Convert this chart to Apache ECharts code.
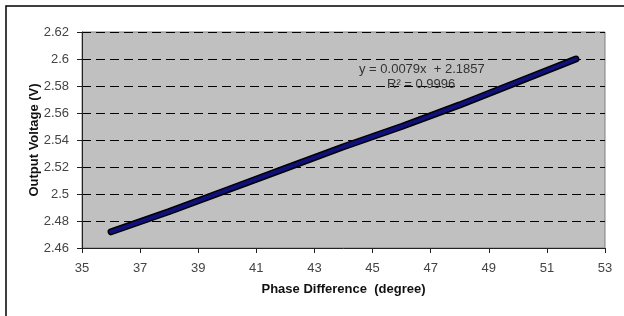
<!DOCTYPE html>
<html>
<head>
<meta charset="utf-8">
<script src="https://cdn.jsdelivr.net/npm/echarts@6/dist/echarts.min.js"></script>
<style>
  html, body { margin: 0; padding: 0; background: #fff; }
  #chart { width: 624px; height: 316px; }
</style>
</head>
<body>
<div id="chart"></div>
<script>
// phase difference (degree) vs output voltage (V)
let phase = [36, 38, 40, 42, 44, 46, 48, 50, 52];
let voltage = [2.472, 2.487, 2.503, 2.519, 2.535, 2.550, 2.566, 2.583, 2.600];
let trendText = ['y = 0.0079x  + 2.1857', 'R\u00b2 = 0.9996'];

let points = phase.map((p, i) => [p, voltage[i]]);
let myChart = echarts.init(document.getElementById('chart'));

let font = 'Liberation Sans';

let option = {
    animation: false,
    backgroundColor: '#fff',
    grid: {
        left: 82,
        right: 19,
        top: 32,
        bottom: 68,
        show: true,
        backgroundColor: '#c0c0c0',
        borderColor: '#808080',
        borderWidth: 1
    },
    xAxis: {
        type: 'value',
        min: 35,
        max: 53,
        interval: 2,
        name: 'Phase Difference  (degree)',
        nameLocation: 'middle',
        nameGap: 35,
        nameTextStyle: { fontFamily: font, fontWeight: 'bold', fontSize: 13, color: '#111' },
        axisLine: { lineStyle: { color: '#222' } },
        axisTick: { show: true, length: 5, lineStyle: { color: '#222' } },
        axisLabel: { fontFamily: font, fontSize: 13, color: '#444', margin: 14 },
        splitLine: { show: false }
    },
    yAxis: {
        type: 'value',
        min: 2.46,
        max: 2.62,
        interval: 0.02,
        name: 'Output Voltage (V)',
        nameLocation: 'middle',
        nameGap: 41,
        nameMoveOverlap: false,
        nameTextStyle: { fontFamily: font, fontWeight: 'bold', fontSize: 13, color: '#111' },
        axisLine: { show: true, lineStyle: { color: '#222' } },
        axisTick: { show: true, length: 5, lineStyle: { color: '#222' } },
        axisLabel: {
            fontFamily: font, fontSize: 13, color: '#444', margin: 13,
            formatter: v => String(parseFloat(v.toFixed(2)))
        },
        splitLine: { show: true, lineStyle: { color: '#000', type: [9, 5], width: 1 } }
    },
    graphic: [
        {
            type: 'rect',
            shape: { x: 6, y: 6, width: 640, height: 340 },
            style: { fill: 'none', stroke: '#000', lineWidth: 1.5 },
            silent: true
        },
        {
            type: 'text',
            left: 359, top: 63,
            style: { text: trendText[0], fontFamily: font, fontSize: 13, fill: '#333' },
            z: 10
        },
        {
            type: 'text',
            left: 387, top: 78,
            style: { text: trendText[1], fontFamily: font, fontSize: 13, fill: '#333' },
            z: 10
        }
    ],
    series: [
        {
            type: 'line',
            data: points,
            symbol: 'none',
            lineStyle: { color: '#000', width: 7, cap: 'round' },
            z: 3
        },
        {
            type: 'line',
            data: points,
            symbol: 'none',
            lineStyle: { color: '#10107a', width: 4, cap: 'round' },
            z: 4
        }
    ]
};
myChart.setOption(option);
</script>
</body>
</html>
